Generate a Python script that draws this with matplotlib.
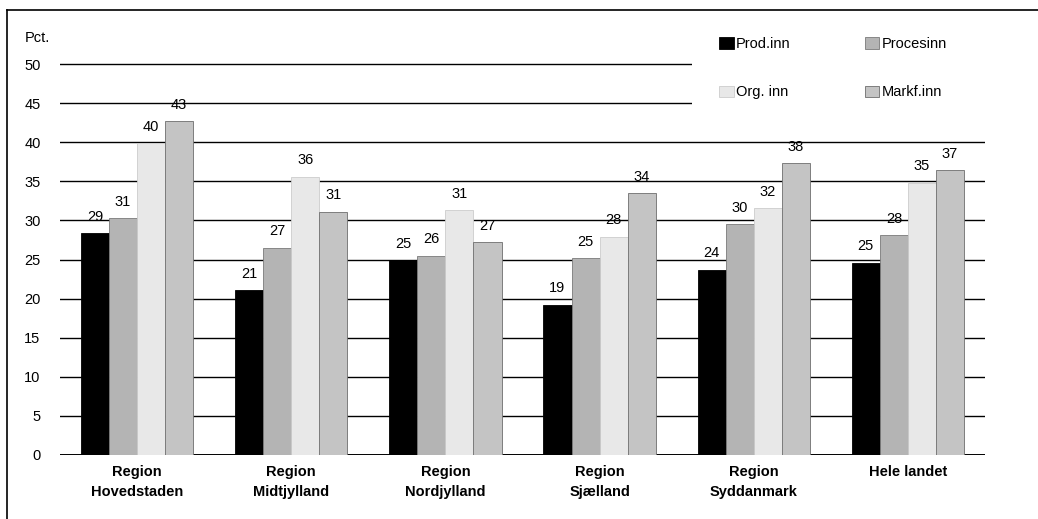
#!/usr/bin/env python3
# -*- coding: utf-8 -*-

"""
Innovation share by region, grouped bars (Pct.).
"""

### Import Space ###

import numpy as np
import matplotlib.pyplot as plt
from matplotlib.lines import Line2D
from matplotlib.patches import Rectangle

### Global Var/stat ###

regions = ["Region\nHovedstaden", "Region\nMidtjylland", "Region\nNordjylland",
           "Region\nSjælland", "Region\nSyddanmark", "Hele landet"]
series = ["Prod.inn", "Procesinn", "Org. inn", "Markf.inn"]

# bar heights
prod_inn = [28.4, 21.1, 24.9, 19.2, 23.7, 24.6]
proces_inn = [30.3, 26.5, 25.5, 25.2, 29.5, 28.1]
org_inn = [39.9, 35.6, 31.3, 27.9, 31.6, 34.8]
markf_inn = [42.7, 31.1, 27.2, 33.5, 37.3, 36.4]

# printed labels above the bars
prod_lab = [29, 21, 25, 19, 24, 25]
proces_lab = [31, 27, 26, 25, 30, 28]
org_lab = [40, 36, 31, 28, 32, 35]
markf_lab = [43, 31, 27, 34, 38, 37]

y_ticks = [0, 5, 10, 15, 20, 25, 30, 35, 40, 45, 50]

colors = ["#000000", "#b4b4b4", "#e8e8e8", "#c4c4c4"]
edges = ["#000000", "#7a7a7a", "#cccccc", "#6e6e6e"]

### Running Script Space ###

if __name__ == '__main__':
    plt.rcParams['font.family'] = ['Liberation Sans', 'DejaVu Sans']

    W, H = 1038, 519
    fig = plt.figure(figsize=(W / 100, H / 100), dpi=100)

    px_per_unit = 7.82
    y0 = 455
    ytop = 50.4
    ax = fig.add_axes([60 / W, 1 - y0 / H, 925 / W, ytop * px_per_unit / H])

    values = [prod_inn, proces_inn, org_inn, markf_inn]
    labels = [prod_lab, proces_lab, org_lab, markf_lab]
    x = np.arange(len(regions))
    width = 0.182

    handles = []
    for i, (vals, labs) in enumerate(zip(values, labels)):
        pos = x + (i - 1.5) * width
        b = ax.bar(pos, vals, width, color=colors[i], edgecolor=edges[i],
                   linewidth=0.6, label=series[i], zorder=3)
        handles.append(b)
        for p, v, lab in zip(pos, vals, labs):
            ax.text(p, v + 1.2, str(lab), ha='center', va='bottom',
                    fontsize=10.5, zorder=4)

    for t in y_ticks:
        ax.axhline(t, color='black', linewidth=1.0 if t else 1.4, zorder=1)

    ax.set_xlim(-0.5, len(regions) - 0.5)
    ax.set_ylim(0, ytop)
    ax.set_yticks(y_ticks)
    ax.set_yticklabels([str(t) for t in y_ticks], fontsize=10.5)
    ax.tick_params(axis='y', length=0, pad=14)
    ax.set_xticks(x)
    ax.set_xticklabels(regions, fontsize=10.5, fontweight='bold',
                       va='top', linespacing=1.6)
    ax.tick_params(axis='x', length=0, pad=7)
    for s in ax.spines.values():
        s.set_visible(False)

    fig.text(25 / W, 1 - 38 / H, "Pct.", fontsize=10.5, va='center')

    # white legend area hiding the gridlines behind it
    fig.add_artist(Rectangle((692 / W, 1 - 128 / H), 300 / W, 108 / H,
                             transform=fig.transFigure, facecolor='white',
                             edgecolor='none', zorder=2))

    # row-wise order: Prod, Proces / Org, Markf
    order = [0, 2, 1, 3]
    leg = fig.legend([handles[k] for k in order], [series[k] for k in order],
                     loc='upper left', bbox_to_anchor=(719 / W, 1 - 37 / H),
                     ncol=2, fontsize=10.5, frameon=False,
                     handlelength=1.0, handleheight=0.8, handletextpad=0.15,
                     columnspacing=5.1, labelspacing=2.35, borderpad=0,
                     borderaxespad=0)
    leg.set_zorder(5)

    # scanned page frame
    fig.add_artist(Line2D([7 / W, 1], [1 - 10 / H, 1 - 10 / H], color='black', linewidth=1.2))
    fig.add_artist(Line2D([7 / W, 7 / W], [0, 1 - 10 / H], color='black', linewidth=1.2))

    fig.savefig("out.png", dpi=100)
